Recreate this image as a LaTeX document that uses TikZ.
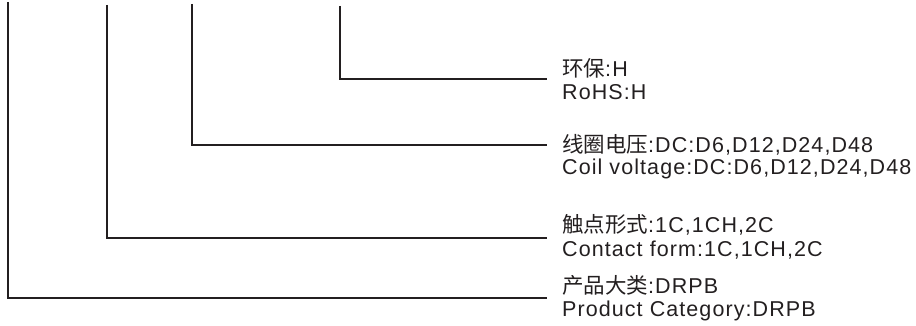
\documentclass[tikz,border=0pt]{standalone}
\usepackage{fontspec}
\setmainfont{Liberation Sans}[LetterSpace=5]
\newfontfamily\cjk{Noto Sans CJK SC}
\usepackage{tikz}
\usetikzlibrary{calc}
\definecolor{ink}{HTML}{231F20}

\begin{document}
\begin{tikzpicture}[x=1pt,y=-1pt]
        %
        % `lead' is used for the code leader lines.
        % `label' is used for each line of text.
        \tikzstyle{lead} = [draw=ink,line width=1.2pt]
        \tikzstyle{label} = [anchor=base west,inner sep=0pt,text=ink,font=\fontsize{21.5}{23}\selectfont]
        %
        \useasboundingbox (0,0) rectangle (916,326);
        %
        % Labels
        \node[label] (envcn) at (562,77) {{\cjk 环保}:H};
        \node[label] (enven) at (562,100) {RoHS:H};
        \node[label] (coilcn) at (562,153) {{\cjk 线圈电压}:DC:D6,D12,D24,D48};
        \node[label] (coilen) at (562,175) {Coil voltage:DC:D6,D12,D24,D48};
        \node[label] (formcn) at (562,233) {{\cjk 触点形式}:1C,1CH,2C};
        \node[label] (formen) at (562,256) {Contact form:1C,1CH,2C};
        \node[label] (catcn) at (562,293) {{\cjk 产品大类}:DRPB};
        \node[label] (caten) at (562,316) {Product Category:DRPB};
        %
        % Tops of the leaders
        \coordinate (top1) at (8,2);
        \coordinate (top2) at (107,5);
        \coordinate (top3) at (192,4);
        \coordinate (top4) at (340,6);
        %
        % Ends of the leaders
        \coordinate (end1) at (547,298);
        \coordinate (end2) at (547,238);
        \coordinate (end3) at (547,145);
        \coordinate (end4) at (547,79);
        %
        % Leaders
        \draw[lead] (top1) |- (end1);
        \draw[lead] (top2) |- (end2);
        \draw[lead] (top3) |- (end3);
        \draw[lead] (top4) |- (end4);
        %
\end{tikzpicture}
\end{document}
